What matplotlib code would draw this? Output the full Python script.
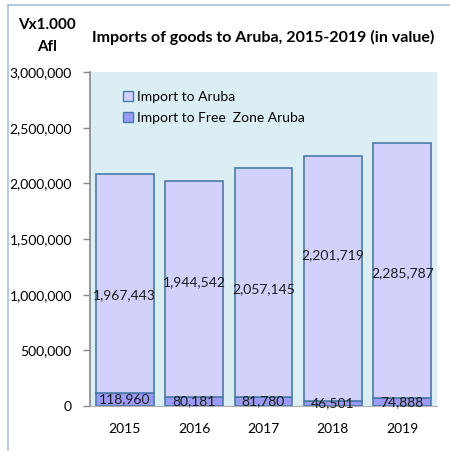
import matplotlib.pyplot as plt
import matplotlib.ticker as mticker
from matplotlib.lines import Line2D
import numpy as np

plt.rcParams['font.family'] = ['Lato', 'DejaVu Sans']

years = ['2015', '2016', '2017', '2018', '2019']
import_free_zone = [118960, 80181, 81780, 46501, 74888]
import_aruba = [1967443, 1944542, 2057145, 2201719, 2285787]
# heights where the Excel labels of the Aruba series sit
aruba_label_y = [997000, 1114000, 1051000, 1356000, 1195000]

col_aruba = '#D1D1FB'
col_fz = '#9B9BF7'
col_edge = '#4A7BA8'

fig = plt.figure(figsize=(4.5, 4.51), dpi=100)
ax = fig.add_axes([90 / 450, 1 - 406 / 451, 347 / 450, 334 / 451])
ax.set_facecolor('#DAEEF3')

x = np.arange(len(years))
w = 0.83
ax.bar(x, import_free_zone, w, color=col_fz, edgecolor=col_edge, linewidth=1.2,
       label='Import to Free  Zone Aruba', zorder=2)
ax.bar(x, import_aruba, w, bottom=import_free_zone, color=col_aruba, edgecolor=col_edge,
       linewidth=1.2, label='Import to Aruba', zorder=2)

for i in range(len(years)):
    ax.text(x[i], import_free_zone[i] / 2, f'{import_free_zone[i]:,}', ha='center', va='center',
            fontsize=10, color='#1a1a1a', zorder=3)
    ax.text(x[i], aruba_label_y[i], f'{import_aruba[i]:,}', ha='center', va='center',
            fontsize=10, color='#1a1a1a', zorder=3)

ax.set_xlim(-0.5, len(years) - 0.5)
ax.set_ylim(0, 3000000)
ax.set_yticks(np.arange(0, 3000001, 500000))
ax.yaxis.set_major_formatter(mticker.FuncFormatter(lambda v, p: f'{int(v):,}'))
ax.set_xticks(x)
ax.set_xticklabels(years)
ax.tick_params(axis='y', length=5, width=1, color='#898989', labelsize=10, pad=8)
ax.tick_params(axis='x', length=0, labelsize=10, pad=12)
for s in ['top', 'right']:
    ax.spines[s].set_visible(False)
ax.spines['left'].set_color('#898989')
ax.spines['left'].set_linewidth(1.2)
ax.spines['bottom'].set_color('#b0b0b0')
ax.spines['bottom'].set_linewidth(0.8)

handles = [
    plt.Rectangle((0, 0), 1, 1, facecolor=col_aruba, edgecolor=col_edge, linewidth=1),
    plt.Rectangle((0, 0), 1, 1, facecolor=col_fz, edgecolor=col_edge, linewidth=1),
]
ax.legend(handles, ['Import to Aruba', 'Import to Free  Zone Aruba'], loc='upper left',
          bbox_to_anchor=(0.06, 0.98), frameon=False, fontsize=10, handlelength=0.7,
          handleheight=0.7, handletextpad=0.3, labelspacing=0.6)

fig.text(263 / 450, 1 - 37 / 451, 'Imports of goods to Aruba, 2015-2019 (in value)',
         ha='center', va='center', fontsize=11.5, fontweight='bold')
fig.text(47 / 450, 1 - 36 / 451, 'Vx1.000\nAfl', ha='center', va='center',
         fontsize=11, fontweight='bold', linespacing=1.65)

# chart area frame (only left and top edges visible)
fig.add_artist(Line2D([8 / 450, 8 / 450], [0, 1 - 5 / 451], color='#A7C1DE', linewidth=1.2))
fig.add_artist(Line2D([8 / 450, 1], [1 - 5 / 451, 1 - 5 / 451], color='#A7C1DE', linewidth=1.2))

fig.savefig('out.png', dpi=100)
